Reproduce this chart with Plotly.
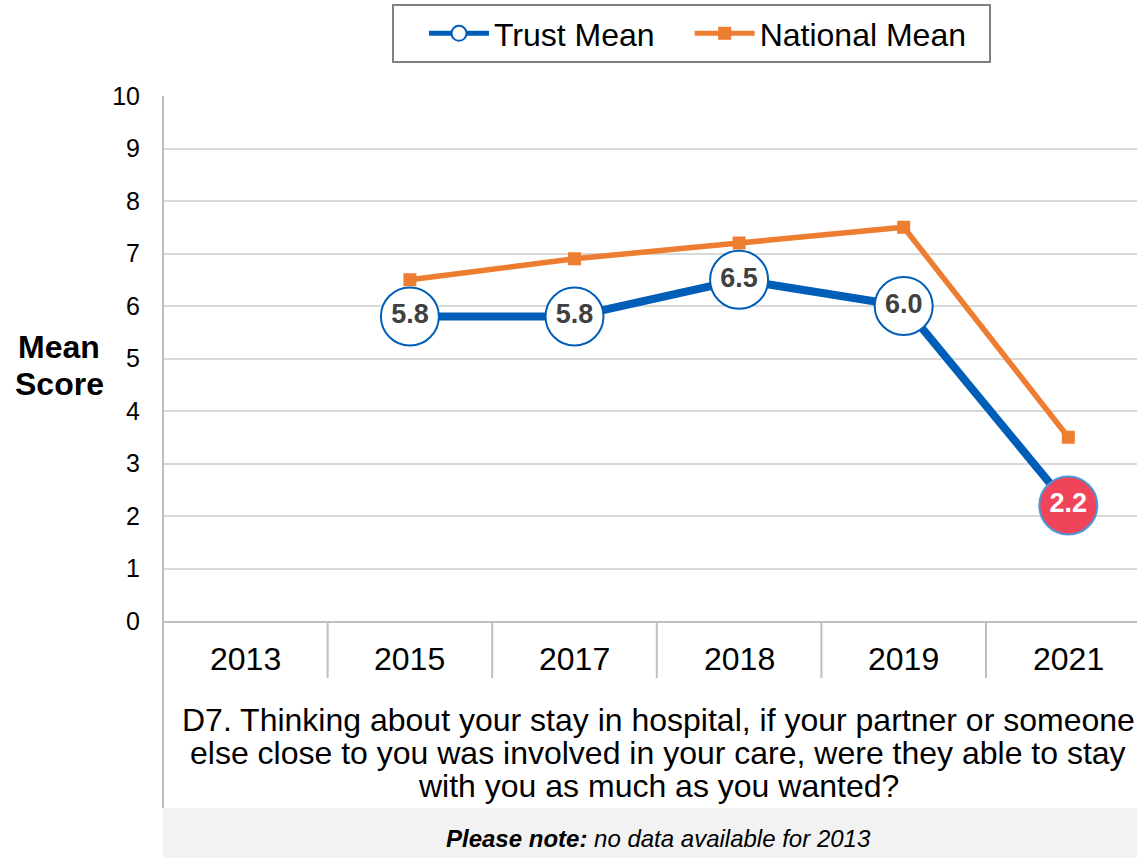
import plotly.graph_objects as go

# Survey years and mean scores
years = ["2013", "2015", "2017", "2018", "2019", "2021"]
trust_mean = [None, 5.8, 5.8, 6.5, 6.0, 2.2]
national_mean = [None, 6.5, 6.9, 7.2, 7.5, 3.5]
y_ticks = list(range(0, 11))

question_lines = [
    "D7. Thinking about your stay in hospital, if your partner or someone",
    "else close to you was involved in your care, were they able to stay",
    "with you as much as you wanted?",
]

BLUE = "#005EB8"
ORANGE = "#ED7D31"
FONT = "Liberation Sans, Arial, sans-serif"

W, H = 1137, 858
L, R, T, B = 163, 0, 96, 237
plot_h = H - T - B
plot_w = W - L - R

def py(pixel_y):
    """Convert a page pixel row into paper y coordinates."""
    return (H - B - pixel_y) / plot_h

def px(pixel_x):
    """Convert a page pixel column into paper x coordinates."""
    return (pixel_x - L) / plot_w

n = len(years)
xs = list(range(n))
# the category band runs slightly past the right edge of the page
x_max = -0.5 + plot_w / 164.6

# Per-point styling: the latest year is highlighted
fill = ["white"] * n
edge = [BLUE] * n
txtc = ["#404040"] * n
fill[-1] = "#EF4459"
edge[-1] = "#4A97DA"
txtc[-1] = "white"
labels = ["" if v is None else f"{v:.1f}" for v in trust_mean]

fig = go.Figure()

fig.add_trace(go.Scatter(
    x=xs, y=national_mean, mode="lines+markers", name="National Mean",
    line=dict(color=ORANGE, width=5.5),
    marker=dict(symbol="square", size=13, color=ORANGE),
    showlegend=False,
))

fig.add_trace(go.Scatter(
    x=xs, y=trust_mean, mode="lines+markers+text", name="Trust Mean",
    line=dict(color=BLUE, width=8),
    marker=dict(size=58, color=fill, line=dict(color=edge, width=2)),
    text=labels, textposition="middle center",
    textfont=dict(family=FONT, size=27, color=txtc, weight="bold"),
    showlegend=False,
))

# Legend entries (trailing spaces pad the right edge of the box)
fig.add_trace(go.Scatter(
    x=[None], y=[None], mode="lines+markers", name="Trust Mean",
    line=dict(color=BLUE, width=5),
    marker=dict(size=15, color="white", line=dict(color=BLUE, width=2)),
))
fig.add_trace(go.Scatter(
    x=[None], y=[None], mode="lines+markers", name="National Mean\u00a0\u00a0",
    line=dict(color=ORANGE, width=5),
    marker=dict(symbol="square", size=13, color=ORANGE),
))

shapes = []
# Category separators below the axis
for i in range(n + 1):
    shapes.append(dict(
        type="line", xref="x", yref="paper",
        x0=i - 0.5, x1=i - 0.5, y0=0, y1=py(678),
        line=dict(color="#BFBFBF", width=2),
    ))
# Left frame line running down past the question
shapes.append(dict(
    type="line", xref="paper", yref="paper",
    x0=0, x1=0, y0=1, y1=py(808),
    line=dict(color="#BFBFBF", width=2),
))
# Note strip
shapes.append(dict(
    type="rect", xref="paper", yref="paper",
    x0=0, x1=1, y0=py(808), y1=py(858),
    fillcolor="#F2F2F2", line=dict(width=0), layer="below",
))

annotations = []
for i, yr in enumerate(years):
    annotations.append(dict(
        x=i, y=py(659), xref="x", yref="paper", text=yr, showarrow=False,
        font=dict(family=FONT, size=32, color="black"),
        xanchor="center", yanchor="middle",
    ))
for j, line in enumerate(question_lines):
    annotations.append(dict(
        x=px(658), y=py(720 + 33 * j), xref="paper", yref="paper",
        text=line, showarrow=False,
        font=dict(family=FONT, size=32, color="black"),
        xanchor="center", yanchor="middle",
    ))
annotations.append(dict(
    x=px(658), y=py(838), xref="paper", yref="paper",
    text="<b><i>Please note:</i></b><i> no data available for 2013</i>",
    showarrow=False, font=dict(family=FONT, size=24, color="black"),
    xanchor="center", yanchor="middle",
))
for word, yy in (("Mean", 347), ("Score", 384)):
    annotations.append(dict(
        x=px(59), y=py(yy), xref="paper", yref="paper",
        text=f"<b>{word}</b>", showarrow=False,
        font=dict(family=FONT, size=32, color="black"),
        xanchor="center", yanchor="middle",
    ))

fig.update_layout(
    width=W, height=H,
    margin=dict(l=L, r=R, t=T, b=B, pad=0),
    plot_bgcolor="white", paper_bgcolor="white",
    font=dict(family=FONT, color="black"),
    xaxis=dict(
        range=[-0.5, x_max], tickvals=xs, showticklabels=False,
        showgrid=False, zeroline=False,
        showline=True, linecolor="#BFBFBF", linewidth=2,
        fixedrange=True,
    ),
    yaxis=dict(
        range=[0, 10], tickvals=y_ticks, showgrid=True,
        gridcolor="#D9D9D9", gridwidth=1.5, zeroline=False,
        showline=False, ticks="",
        tickfont=dict(family=FONT, size=25, color="black"),
        ticklabelstandoff=22,
    ),
    legend=dict(
        orientation="h", x=px(392), y=py(4),
        xanchor="left", yanchor="top",
        bordercolor="#808080", borderwidth=2,
        font=dict(family=FONT, size=32, color="black"),
        itemwidth=60, indentation=30,
        itemclick=False, itemdoubleclick=False,
    ),
    shapes=shapes, annotations=annotations,
)

fig.write_html("out.html")
